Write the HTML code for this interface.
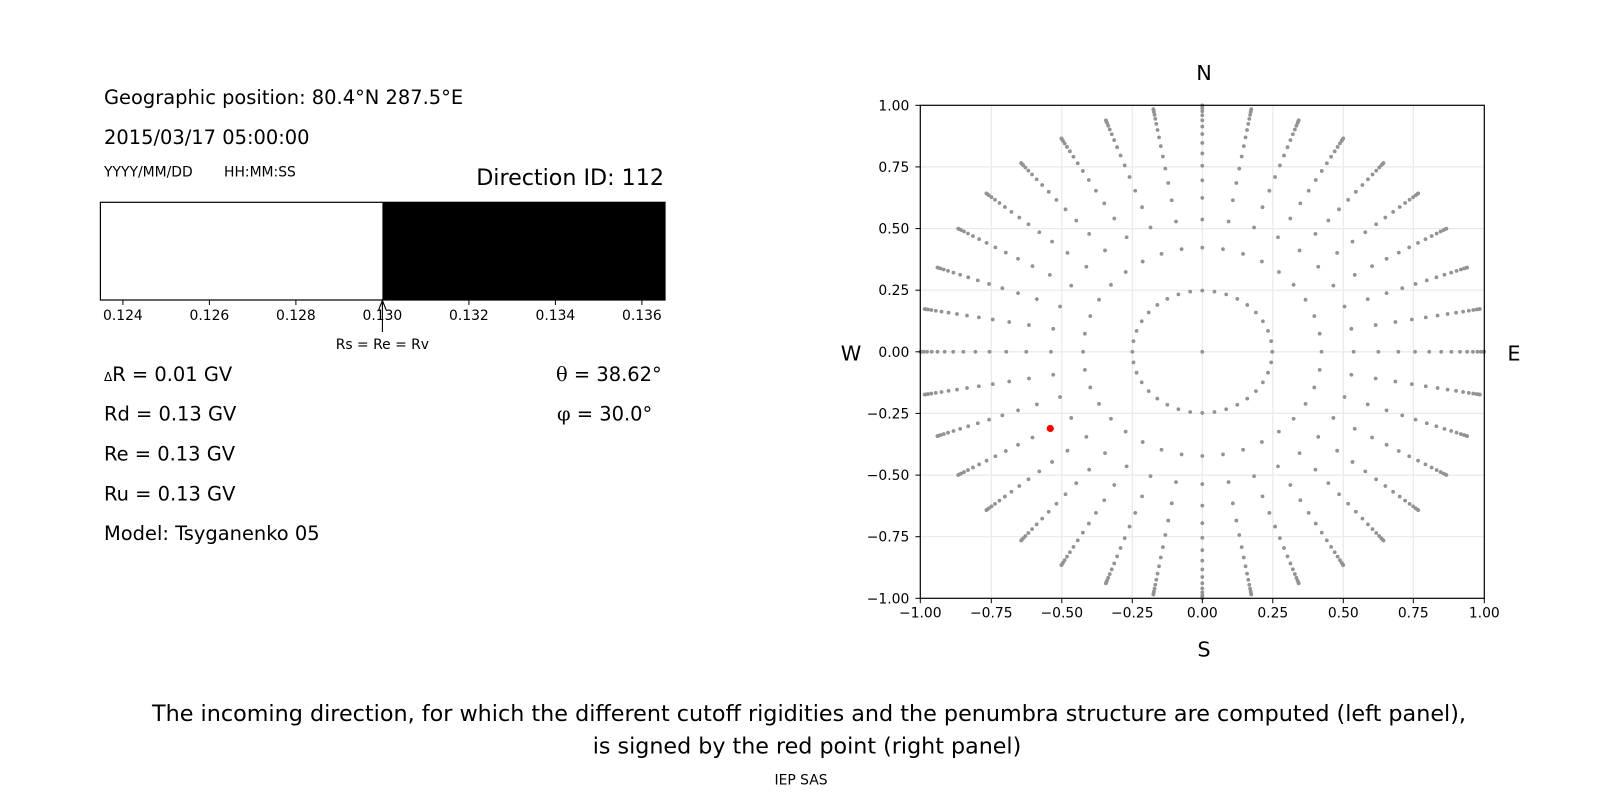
<!DOCTYPE html>
<html>
<head>
<meta charset="utf-8">
<style>
  html,body{margin:0;padding:0;background:#fff;}
  body{width:1600px;height:800px;overflow:hidden;}
  svg{display:block;}
  text{font-family:"DejaVu Sans","Liberation Sans",sans-serif;fill:#000;}
  .tk{font-size:13.9px;}
  .big{font-size:19.44px;}
</style>
</head>
<body>
<svg width="1600" height="800" viewBox="0 0 1600 800">
  <rect x="0" y="0" width="1600" height="800" fill="#fff"/>

  <!-- ===== LEFT PANEL ===== -->
  <text class="big" x="104" y="104">Geographic position: 80.4°N 287.5°E</text>
  <text class="big" x="104" y="144">2015/03/17 05:00:00</text>
  <text class="tk" x="104" y="176.7">YYYY/MM/DD</text>
  <text class="tk" x="224" y="176.7">HH:MM:SS</text>
  <text x="664" y="185" text-anchor="end" style="font-size:22.2px">Direction ID: 112</text>

  <!-- bar -->
  <rect x="382.4" y="202.3" width="282.6" height="97.7" fill="#000"/>
  <rect x="100.4" y="202.3" width="564.6" height="97.7" fill="none" stroke="#000" stroke-width="1.2"/>
  <g stroke="#000" stroke-width="1">
    <line x1="122.9" y1="300" x2="122.9" y2="305"/>
    <line x1="209.4" y1="300" x2="209.4" y2="305"/>
    <line x1="295.9" y1="300" x2="295.9" y2="305"/>
    <line x1="382.4" y1="300" x2="382.4" y2="305"/>
    <line x1="468.9" y1="300" x2="468.9" y2="305"/>
    <line x1="555.4" y1="300" x2="555.4" y2="305"/>
    <line x1="641.9" y1="300" x2="641.9" y2="305"/>
  </g>
  <g class="tk" text-anchor="middle">
    <text x="122.9" y="320">0.124</text>
    <text x="209.4" y="320">0.126</text>
    <text x="295.9" y="320">0.128</text>
    <text x="382.4" y="320">0.130</text>
    <text x="468.9" y="320">0.132</text>
    <text x="555.4" y="320">0.134</text>
    <text x="641.9" y="320">0.136</text>
  </g>
  <!-- arrow -->
  <g stroke="#000" stroke-width="1.1" fill="none">
    <line x1="382.4" y1="332" x2="382.4" y2="300.5"/>
    <polyline points="378.6,310 382.4,300.5 386.2,310"/>
  </g>
  <text class="tk" x="382.4" y="349" text-anchor="middle">Rs = Re = Rv</text>

  <text class="big" x="104" y="381"><tspan style="font-size:12px">Δ</tspan>R = 0.01 GV</text>
  <text class="big" x="104" y="420.4">Rd = 0.13 GV</text>
  <text class="big" x="104" y="460.4">Re = 0.13 GV</text>
  <text class="big" x="104" y="500.4">Ru = 0.13 GV</text>
  <text class="big" x="104" y="539.8">Model: Tsyganenko 05</text>
  <text class="big" x="556" y="381"><tspan style="font-family:'DejaVu Serif',serif">θ</tspan> = 38.62°</text>
  <text class="big" x="557" y="420.4"><tspan style="font-family:'DejaVu Serif',serif">φ</tspan> = 30.0°</text>

  <!-- ===== RIGHT PANEL ===== -->
  <g stroke="#e9e9e9" stroke-width="1.2">
    <line x1="991.3" y1="105.3" x2="991.3" y2="598.3"/>
    <line x1="1061.8" y1="105.3" x2="1061.8" y2="598.3"/>
    <line x1="1132.3" y1="105.3" x2="1132.3" y2="598.3"/>
    <line x1="1202.3" y1="105.3" x2="1202.3" y2="598.3"/>
    <line x1="1272.8" y1="105.3" x2="1272.8" y2="598.3"/>
    <line x1="1343.3" y1="105.3" x2="1343.3" y2="598.3"/>
    <line x1="1413.3" y1="105.3" x2="1413.3" y2="598.3"/>
    <line x1="920.3" y1="166.9" x2="1484.3" y2="166.9"/>
    <line x1="920.3" y1="228.6" x2="1484.3" y2="228.6"/>
    <line x1="920.3" y1="290.2" x2="1484.3" y2="290.2"/>
    <line x1="920.3" y1="351.8" x2="1484.3" y2="351.8"/>
    <line x1="920.3" y1="413.4" x2="1484.3" y2="413.4"/>
    <line x1="920.3" y1="475.1" x2="1484.3" y2="475.1"/>
    <line x1="920.3" y1="536.7" x2="1484.3" y2="536.7"/>
  </g>

  <g id="dots" fill="#939393"></g>
  <circle cx="1050.3" cy="428.5" r="3.6" fill="#ff0000"/>

  <rect x="920.3" y="105.3" width="564" height="493" fill="none" stroke="#000" stroke-width="1.2"/>

  <!-- ticks -->
  <g stroke="#000" stroke-width="1">
    <line x1="915.4" y1="105.3" x2="920.3" y2="105.3"/>
    <line x1="915.4" y1="166.9" x2="920.3" y2="166.9"/>
    <line x1="915.4" y1="228.6" x2="920.3" y2="228.6"/>
    <line x1="915.4" y1="290.2" x2="920.3" y2="290.2"/>
    <line x1="915.4" y1="351.8" x2="920.3" y2="351.8"/>
    <line x1="915.4" y1="413.4" x2="920.3" y2="413.4"/>
    <line x1="915.4" y1="475.1" x2="920.3" y2="475.1"/>
    <line x1="915.4" y1="536.7" x2="920.3" y2="536.7"/>
    <line x1="915.4" y1="598.3" x2="920.3" y2="598.3"/>
    <line x1="920.3" y1="598.3" x2="920.3" y2="603.2"/>
    <line x1="991.3" y1="598.3" x2="991.3" y2="603.2"/>
    <line x1="1061.8" y1="598.3" x2="1061.8" y2="603.2"/>
    <line x1="1132.3" y1="598.3" x2="1132.3" y2="603.2"/>
    <line x1="1202.3" y1="598.3" x2="1202.3" y2="603.2"/>
    <line x1="1272.8" y1="598.3" x2="1272.8" y2="603.2"/>
    <line x1="1343.3" y1="598.3" x2="1343.3" y2="603.2"/>
    <line x1="1413.3" y1="598.3" x2="1413.3" y2="603.2"/>
    <line x1="1484.3" y1="598.3" x2="1484.3" y2="603.2"/>
  </g>
  <g class="tk" text-anchor="end">
    <text x="909.3" y="110.3">1.00</text>
    <text x="909.3" y="171.9">0.75</text>
    <text x="909.3" y="233.6">0.50</text>
    <text x="909.3" y="295.2">0.25</text>
    <text x="909.3" y="356.8">0.00</text>
    <text x="909.3" y="418.4">−0.25</text>
    <text x="909.3" y="480.1">−0.50</text>
    <text x="909.3" y="541.7">−0.75</text>
    <text x="909.3" y="603.3">−1.00</text>
  </g>
  <g class="tk" text-anchor="middle">
    <text x="920.3" y="617.7">−1.00</text>
    <text x="991.3" y="617.7">−0.75</text>
    <text x="1061.8" y="617.7">−0.50</text>
    <text x="1132.3" y="617.7">−0.25</text>
    <text x="1202.3" y="617.7">0.00</text>
    <text x="1272.8" y="617.7">0.25</text>
    <text x="1343.3" y="617.7">0.50</text>
    <text x="1413.3" y="617.7">0.75</text>
    <text x="1484.3" y="617.7">1.00</text>
  </g>

  <g text-anchor="middle" style="font-size:20.8px">
    <text x="1204" y="80.2">N</text>
    <text x="1204" y="656.5">S</text>
    <text x="851" y="360.5">W</text>
    <text x="1514" y="360.5">E</text>
  </g>

  <!-- caption -->
  <text x="809" y="720.8" text-anchor="middle" style="font-size:22.2px" textLength="1314" lengthAdjust="spacingAndGlyphs">The incoming direction, for which the different cutoff rigidities and the penumbra structure are computed (left panel),</text>
  <text x="807" y="753.5" text-anchor="middle" style="font-size:22.2px" textLength="428.5" lengthAdjust="spacingAndGlyphs">is signed by the red point (right panel)</text>
  <text class="tk" x="801" y="784.6" text-anchor="middle">IEP SAS</text>
</svg>
<script>
(function(){
  var cx=1202.3, cy=351.8, sx=282, sy=246.5;
  var s='';
  function dot(x,y){
    s+='<circle cx="'+(cx+x*sx).toFixed(2)+'" cy="'+(cy-y*sy).toFixed(2)+'" r="1.9"/>';
  }
  dot(0,0);
  for(var a=0;a<360;a+=10){
    var t=a*Math.PI/180;
    for(var k=0;k<16;k++){
      var c=1-(k+0.5)/16;
      var r=Math.sqrt(1-c*c);
      dot(r*Math.cos(t), r*Math.sin(t));
    }
  }
  document.getElementById('dots').innerHTML=s;
})();
</script>
</body>
</html>
